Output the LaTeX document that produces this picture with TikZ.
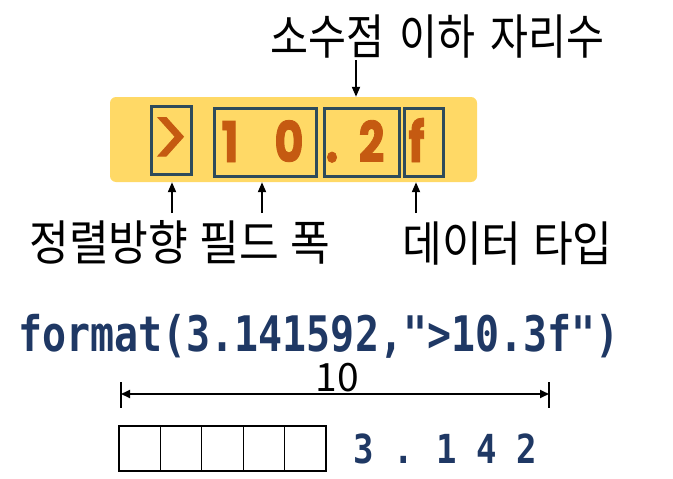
\documentclass[tikz,border=0pt]{standalone}
\usepackage{fontspec}
\usetikzlibrary{arrows.meta}
\newfontfamily\krbot{Noto Sans CJK KR}[FakeStretch=0.9,WordSpace=1.2]
\newfontfamily\krtop{Noto Sans CJK KR}[FakeStretch=0.86,WordSpace=1.6]
\newfontfamily\krnum{Noto Sans CJK KR}
\newfontfamily\codefont{DejaVu Sans Mono}[FakeStretch=0.815]
\newfontfamily\resfont{DejaVu Sans Mono}[FakeStretch=0.85]
\newfontfamily\fmtfont{Poppins}[FakeStretch=0.8,FakeBold=1.5]
\newfontfamily\chevfont{Poppins}[FakeStretch=0.85,FakeBold=1.2]
\definecolor{gold}{HTML}{FFD966}
\definecolor{slate}{HTML}{2E4B5B}
\definecolor{orng}{HTML}{C55A11}
\definecolor{navy}{HTML}{1F3864}
\begin{document}
\begin{tikzpicture}[x=1pt,y=-1pt,
  lbl/.style={inner sep=0pt,text=black},
  arr/.style={line width=1.9pt,-{Triangle[length=10pt,width=8pt]}},
  dimline/.style={line width=1.9pt,{Triangle[length=9pt,width=8pt]}-{Triangle[length=9pt,width=8pt]}},
  tickline/.style={line width=2pt},
  band/.style={fill=gold,rounded corners=6pt,inner sep=0pt,minimum width=367pt,minimum height=85pt},
  specbox/.style={draw=slate,line width=3pt,inner sep=0pt},
  fmtch/.style={anchor=base,inner sep=0pt,text=orng,font=\fmtfont\bfseries\fontsize{56}{60}\selectfont},
  codech/.style={anchor=base,inner sep=0pt,text=navy,font=\resfont\bfseries\fontsize{40}{44}\selectfont},
  cell/.style={draw=black,line width=1.3pt,minimum width=41.4pt,minimum height=45pt,inner sep=0pt}]
\useasboundingbox (0,0) rectangle (673,479);

% yellow band with format spec
\node[band] (band) at (293.5,139.5) {};
\node[specbox,minimum width=40pt,minimum height=68pt] (b1) at (171,140) {};
\node[specbox,minimum width=102pt,minimum height=68pt] (b2) at (265,142) {};
\node[specbox,minimum width=75pt,minimum height=68pt] (b3) at (361.5,142) {};
\node[specbox,minimum width=39pt,minimum height=68pt] (b4) at (423.5,142) {};
\node[anchor=center,inner sep=0pt,text=orng,font=\chevfont\fontsize{84}{88}\selectfont] (g1) at (170.5,142.5) {>};
\node[fmtch] (g2) at (230,162) {1};
\node[fmtch] (g3) at (289,162) {0};
\node[fmtch] (g4) at (332,162) {.};
\node[fmtch] (g5) at (371.5,162) {2};
\node[fmtch] (g6) at (416.5,162) {f};

% labels
\node[lbl,font=\krtop\fontsize{48}{52}\selectfont] (top) at (437.5,36.5) {소수점 이하 자리수};
\node[lbl,font=\krbot\fontsize{48}{52}\selectfont] (lblA) at (180,242) {정렬방향 필드 폭};
\node[lbl,font=\krbot\fontsize{48}{52}\selectfont] (lblB) at (507.5,243.5) {데이터 타입};

\coordinate (ta) at (356,60);
\draw[arr] (ta) -- (ta |- band.north);
\coordinate (a1) at (172,213);
\coordinate (a2) at (262,213);
\coordinate (a3) at (416,213);
\draw[arr] (a1) -- (a1 |- band.south);
\draw[arr] (a2) -- (a2 |- band.south);
\draw[arr] (a3) -- (a3 |- band.south);

% format call
\node[anchor=base,inner sep=0pt,text=navy,font=\codefont\bfseries\fontsize{49}{54}\selectfont] (fmt) at (319,351) {format(3.141592,"{}>10.3f")};

% dimension line
\coordinate (dl) at (121,394);
\coordinate (dr) at (549,394);
\coordinate (dlt) at (121,382);
\coordinate (dlb) at (121,408);
\coordinate (drt) at (549,382);
\coordinate (drb) at (549,408);
\draw[tickline] (dlt) -- (dlb);
\draw[tickline] (drt) -- (drb);
\draw[dimline] (dl) -- (dr);
\node[lbl,font=\krnum\fontsize{39}{43}\selectfont] (ten) at (337,378) {10};

% cells and result
\node[cell] (c1) at (139.7,448.5) {};
\node[cell] (c2) at (181.1,448.5) {};
\node[cell] (c3) at (222.5,448.5) {};
\node[cell] (c4) at (263.9,448.5) {};
\node[cell] (c5) at (305.3,448.5) {};
\node[codech] (d1) at (364,463) {3};
\node[codech] (d2) at (404,463) {.};
\node[codech] (d3) at (447,463) {1};
\node[codech] (d4) at (487,463) {4};
\node[codech] (d5) at (527,463) {2};
\end{tikzpicture}
\end{document}
